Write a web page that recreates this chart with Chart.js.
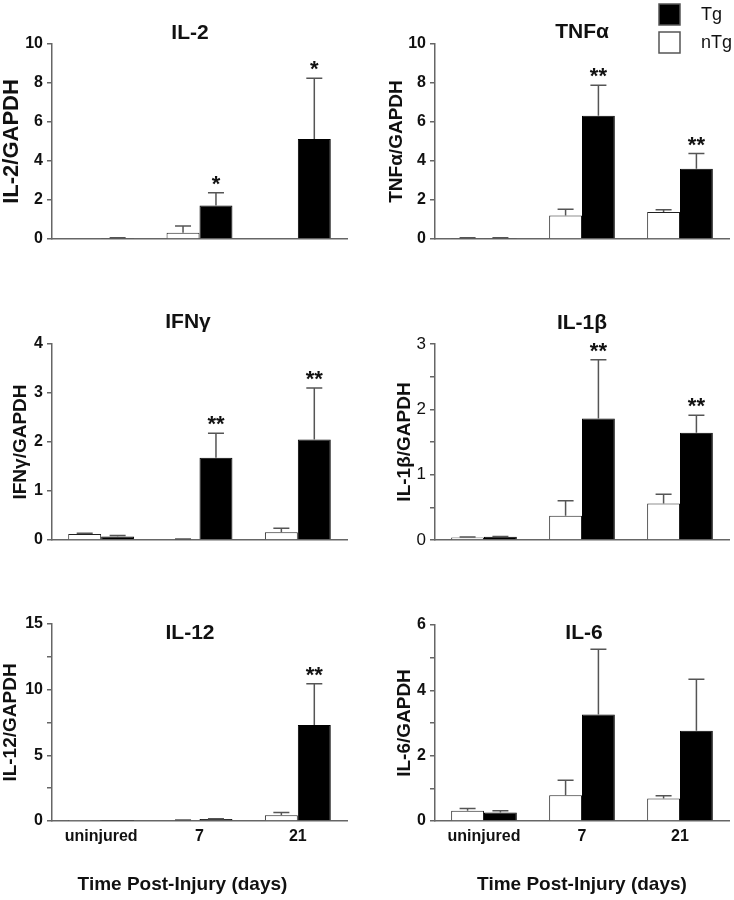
<!DOCTYPE html>
<html>
<head>
<meta charset="utf-8">
<script src="https://cdn.jsdelivr.net/npm/chart.js@4.4.1/dist/chart.umd.min.js"></script>
<style>
  body { margin: 0; background: #fff; }
  #figure { position: relative; width: 734px; height: 900px; background: #fff; }
  #figure canvas { position: absolute; }
</style>
</head>
<body>
<div id="figure">
  <canvas id="il2" width="367" height="270" style="left:0;top:0"></canvas>
  <canvas id="tnf" width="367" height="270" style="left:367px;top:0"></canvas>
  <canvas id="ifn" width="367" height="300" style="left:0;top:270px"></canvas>
  <canvas id="il1b" width="367" height="300" style="left:367px;top:270px"></canvas>
  <canvas id="il12" width="367" height="330" style="left:0;top:570px"></canvas>
  <canvas id="il6" width="367" height="330" style="left:367px;top:570px"></canvas>
</div>
<script>
const categories = ['uninjured', '7', '21']
const groups = ['nTg', 'Tg']
const xCaption = 'Time Post-Injury (days)'

// means and upper error (SEM)
const il2NTg = [0, 0.32, 0]
const il2NTgErr = [0, 0.35, 0]
const il2Tg = [0.05, 1.72, 5.13]
const il2TgErr = [0.02, 0.65, 3.12]
const il2Stars = ['', '*', '*']

const tnfNTg = [0.05, 1.2, 1.38]
const tnfNTgErr = [0.01, 0.33, 0.12]
const tnfTg = [0.05, 6.32, 3.6]
const tnfTgErr = [0.01, 1.57, 0.78]
const tnfStars = ['', '**', '**']

const ifnNTg = [0.12, 0.015, 0.16]
const ifnNTgErr = [0.02, 0.005, 0.08]
const ifnTg = [0.07, 1.68, 2.05]
const ifnTgErr = [0.02, 0.5, 1.05]
const ifnStars = ['', '**', '**']

const il1bNTg = [0.04, 0.37, 0.56]
const il1bNTgErr = [0.005, 0.23, 0.14]
const il1bTg = [0.05, 1.86, 1.64]
const il1bTgErr = [0.005, 0.9, 0.27]
const il1bStars = ['', '**', '**']

const il12NTg = [0.01, 0.06, 0.43]
const il12NTgErr = [0, 0.01, 0.21]
const il12Tg = [0.02, 0.15, 7.31]
const il12TgErr = [0, 0.02, 3.14]
const il12Stars = ['', '', '**']

const il6NTg = [0.31, 0.79, 0.69]
const il6NTgErr = [0.07, 0.46, 0.08]
const il6Tg = [0.26, 3.26, 2.76]
const il6TgErr = [0.05, 2.0, 1.58]
const il6Stars = ['', '', '']

const FONT = '"Liberation Sans", Arial, sans-serif'
Chart.defaults.font.family = FONT
Chart.defaults.color = '#111'

const panels = [
  {canvas: 'il2', title: 'IL-2', yTitle: 'IL-2/GAPDH', nTg: il2NTg, nTgErr: il2NTgErr, tg: il2Tg, tgErr: il2TgErr, stars: il2Stars,
   max: 10, step: 2, every: 2, pad: [1, 44, 20, 0], yWidth: 51, xHeight: 31, titleX: 190, titleY: 33, yTitleSize: 22},
  {canvas: 'tnf', title: 'TNFα', yTitle: 'TNFα/GAPDH', nTg: tnfNTg, nTgErr: tnfNTgErr, tg: tnfTg, tgErr: tnfTgErr, stars: tnfStars,
   max: 10, step: 2, every: 2, pad: [20, 44, 5, 0], yWidth: 48, xHeight: 31, titleX: 215, titleY: 32, yTitleSize: 19, legend: true},
  {canvas: 'ifn', title: 'IFNγ', yTitle: 'IFNγ/GAPDH', nTg: ifnNTg, nTgErr: ifnNTgErr, tg: ifnTg, tgErr: ifnTgErr, stars: ifnStars,
   max: 4, step: 1, every: 1, pad: [11, 74, 20, 0], yWidth: 41, xHeight: 30, titleX: 188, titleY: 52, yTitleSize: 19},
  {canvas: 'il1b', title: 'IL-1β', yTitle: 'IL-1β/GAPDH', nTg: il1bNTg, nTgErr: il1bNTgErr, tg: il1bTg, tgErr: il1bTgErr, stars: il1bStars,
   max: 3, step: 0.5, every: 1, pad: [28, 74, 5, 0], yWidth: 40, xHeight: 30, titleX: 215, titleY: 53, yTitleSize: 19, thinTicks: true},
  {canvas: 'il12', title: 'IL-12', yTitle: 'IL-12/GAPDH', nTg: il12NTg, nTgErr: il12NTgErr, tg: il12Tg, tgErr: il12TgErr, stars: il12Stars,
   max: 15, step: 2.5, every: 5, pad: [1, 54, 20, 0], yWidth: 51, xHeight: 79, titleX: 190, titleY: 63, yTitleSize: 19, showX: true, captionDx: -17},
  {canvas: 'il6', title: 'IL-6', yTitle: 'IL-6/GAPDH', nTg: il6NTg, nTgErr: il6NTgErr, tg: il6Tg, tgErr: il6TgErr, stars: il6Stars,
   max: 6, step: 1, every: 2, pad: [28, 55, 5, 0], yWidth: 40, xHeight: 79, titleX: 217, titleY: 63, yTitleSize: 19, showX: true, captionDx: 0}
]

// error bars, stars, panel titles, legend and the shared x caption
const decorations = {
  id: 'decorations',
  afterDatasetsDraw(chart, args, opts) {
    let ctx = chart.ctx
    let yScale = chart.scales.y
    let area = chart.chartArea
    ctx.save()
    chart.data.datasets.forEach((ds, di) => {
      chart.getDatasetMeta(di).data.forEach((bar, i) => {
        let err = ds.errors[i]
        if (!err) return
        let top = yScale.getPixelForValue(ds.data[i] + err)
        ctx.strokeStyle = '#555'
        ctx.lineWidth = 1.5
        ctx.beginPath()
        ctx.moveTo(bar.x, bar.y)
        ctx.lineTo(bar.x, top)
        ctx.moveTo(bar.x - 8, top)
        ctx.lineTo(bar.x + 8, top)
        ctx.stroke()
      })
    })

    let tg = chart.data.datasets[1]
    let tgMeta = chart.getDatasetMeta(1)
    ctx.fillStyle = '#111'
    ctx.textAlign = 'center'
    ctx.textBaseline = 'alphabetic'
    ctx.font = 'bold 22px ' + FONT
    opts.stars.forEach((s, i) => {
      if (!s) return
      let top = yScale.getPixelForValue(tg.data[i] + tg.errors[i])
      ctx.fillText(s, tgMeta.data[i].x, top - 2)
    })

    ctx.textBaseline = 'middle'
    ctx.font = 'bold 21px ' + FONT
    ctx.fillText(opts.title, opts.titleX, opts.titleY)

    if (opts.caption) {
      ctx.font = 'bold 19px ' + FONT
      ctx.fillText(opts.caption, (area.left + area.right) / 2 + opts.captionDx, chart.height - 15)
    }

    if (opts.legend) {
      let order = [1, 0]
      order.forEach((di, row) => {
        let ds = chart.data.datasets[di]
        let y = 4 + row * 28
        ctx.fillStyle = ds.backgroundColor
        ctx.fillRect(292, y, 21, 21)
        ctx.strokeStyle = '#555'
        ctx.lineWidth = 1.5
        ctx.strokeRect(292, y, 21, 21)
        ctx.fillStyle = '#111'
        ctx.textAlign = 'left'
        ctx.font = '18px ' + FONT
        ctx.fillText(ds.label, 334, y + 11)
      })
    }
    ctx.restore()
  }
}

function createPanel(p) {
  let ctx = document.getElementById(p.canvas).getContext('2d')
  return new Chart(ctx, {
    type: 'bar',
    data: {
      labels: categories,
      datasets: [{
        label: groups[0],
        data: p.nTg,
        errors: p.nTgErr,
        backgroundColor: '#fff',
        borderColor: '#222',
        borderWidth: 1
      },
      {
        label: groups[1],
        data: p.tg,
        errors: p.tgErr,
        backgroundColor: '#000',
        borderColor: '#000',
        borderWidth: 1
      }]
    },
    options: {
      responsive: false,
      animation: false,
      devicePixelRatio: 1,
      categoryPercentage: 0.67,
      barPercentage: 1,
      layout: {
        padding: {left: p.pad[0], top: p.pad[1], right: p.pad[2], bottom: p.pad[3]}
      },
      plugins: {
        legend: {display: false},
        tooltip: {enabled: false},
        decorations: {
          stars: p.stars,
          title: p.title,
          titleX: p.titleX,
          titleY: p.titleY,
          caption: p.showX ? xCaption : '',
          captionDx: p.captionDx || 0,
          legend: !!p.legend
        }
      },
      scales: {
        x: {
          grid: {display: false, drawTicks: false},
          border: {color: '#666', width: 1.5},
          ticks: {display: !!p.showX, padding: 6, color: '#111', font: {size: 16, weight: 'bold'}},
          afterFit: s => { s.height = p.xHeight }
        },
        y: {
          min: 0,
          max: p.max,
          border: {color: '#666', width: 1.5},
          grid: {drawOnChartArea: false, drawTicks: true, tickLength: 5, color: '#666', lineWidth: 1.5},
          ticks: {
            stepSize: p.step,
            padding: 4,
            color: '#111',
            font: p.thinTicks ? {size: 17, weight: 'normal'} : {size: 16, weight: 'bold'},
            callback: v => (Math.abs(v % p.every) < 1e-9 ? v : '')
          },
          title: {
            display: true,
            text: p.yTitle,
            color: '#111',
            padding: 0,
            font: {size: p.yTitleSize, weight: 'bold', lineHeight: 1}
          },
          afterFit: s => { s.width = p.yWidth }
        }
      }
    },
    plugins: [decorations]
  })
}

for (let p of panels) createPanel(p)
</script>
</body>
</html>
